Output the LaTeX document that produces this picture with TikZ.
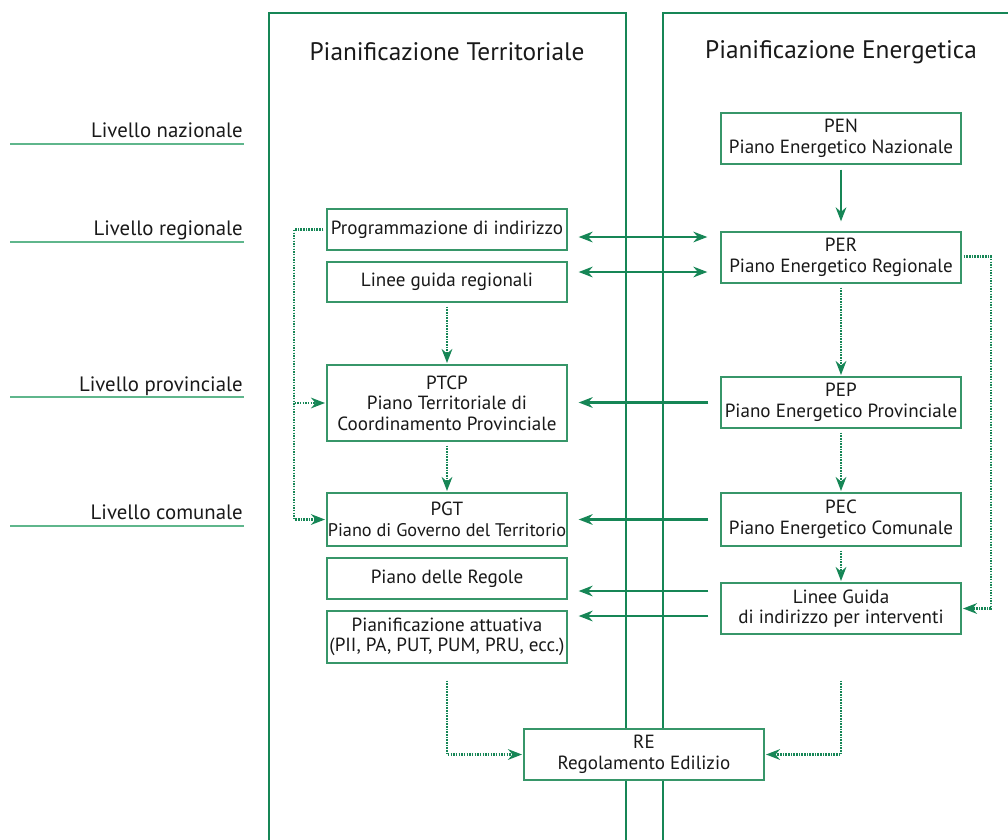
\documentclass[tikz,border=0pt]{standalone}
\usepackage{fontspec}
\setmainfont{PT Sans}
\usetikzlibrary{arrows.meta,calc}
\definecolor{grn}{RGB}{22,134,86}
\definecolor{boxgrn}{RGB}{55,150,105}
\definecolor{lvlgrn}{RGB}{95,182,140}
\definecolor{txt}{RGB}{25,25,25}
\tikzset{
  panel/.style={draw=grn,line width=2pt},
  box/.style={draw=boxgrn,line width=1pt,fill=white,minimum width=180pt,inner sep=0pt,align=center,text=txt,font=\fontsize{14.3}{15.5}\selectfont},
  hdr/.style={text=txt,font=\fontsize{19}{22}\selectfont},
  lvl/.style={text=txt,font=\fontsize{15.6}{18}\selectfont,anchor=base east,inner sep=0pt},
  lvlline/.style={draw=lvlgrn,line width=1pt},
  tip/.style={-{Stealth[length=10.5pt,width=8pt]}},
  arr/.style={draw=grn,line width=1.7pt,tip},
  dbl/.style={draw=grn,line width=1.7pt,{Stealth[length=10.5pt,width=8pt]}-{Stealth[length=10.5pt,width=8pt]}},
  dotarr/.style={draw=grn,line width=1.7pt,dash pattern=on 1.2pt off 0.8pt,tip,shorten >=1pt},
}
\begin{document}
\begin{tikzpicture}[x=0.75pt,y=-0.75pt]
\useasboundingbox (0,0) rectangle (1008,840);
\clip (0,0) rectangle (1008,840);

% panels
\draw[panel] (269,860) -- (269,13) -- (626,13) -- (626,860);
\draw[panel] (663,860) -- (663,13) -- (1030,13);
\node[hdr] (hT) at (447,52) {Pianificazione Territoriale};
\node[hdr] (hE) at (841,52) {Pianificazione Energetica};

% levels
\node[lvl] (l1) at (243,137) {Livello nazionale};
\node[lvl] (l2) at (243,235) {Livello regionale};
\node[lvl] (l3) at (243,391) {Livello provinciale};
\node[lvl] (l4) at (243,519) {Livello comunale};
\draw[lvlline] (10,144) -- (244,144);
\draw[lvlline] (10,242) -- (244,242);
\draw[lvlline] (10,397) -- (244,397);
\draw[lvlline] (10,526) -- (244,526);

% left boxes
\node[box,minimum height=30.75pt] (prog) at (447,229.5) {Programmazione di indirizzo};
\node[box,minimum height=30pt] (LGR) at (447,282) {Linee guida regionali};
\node[box,minimum height=57pt] (PTCP) at (447,403) {PTCP\\Piano Territoriale di\\Coordinamento Provinciale};
\node[box,minimum height=39.75pt] (PGT) at (447,519.5) {PGT\\{\fontsize{13.7}{15.5}\selectfont Piano di Governo del Territorio}};
\node[box,minimum height=30.75pt] (PdR) at (447,578.5) {Piano delle Regole};
\node[box,minimum height=39pt] (PA) at (447,637) {Pianificazione attuativa\\(PII, PA, PUT, PUM, PRU, ecc.)};

% right boxes
\node[box,minimum height=38.25pt] (PEN) at (841,138.5) {PEN\\Piano Energetico Nazionale};
\node[box,minimum height=38.25pt] (PER) at (841,257.5) {PER\\Piano Energetico Regionale};
\node[box,minimum height=38.25pt] (PEP) at (841,402.5) {PEP\\Piano Energetico Provinciale};
\node[box,minimum height=39.75pt] (PEC) at (841,519.5) {PEC\\Piano Energetico Comunale};
\node[box,minimum height=38.25pt] (LG) at (841,608.5) {Linee Guida\\di indirizzo per interventi};

% bottom box
\node[box,minimum height=38.25pt] (RE) at (644,754.5) {RE\\Regolamento Edilizio};

% solid connectors
\draw[arr,shorten <=3.75pt,shorten >=7.5pt] (PEN) -- (PER);
\draw[dbl] ($(prog.east)+(11,7.5)$) -- ($(prog.east -| PER.west)+(-13,7.5)$);
\draw[dbl] ($(LGR.east)+(11,-10)$) -- ($(LGR.east -| PER.west)+(-13,-10)$);
\draw[arr] ($(PEP.west)+(-12,0)$) -- ($(PEP.west -| PTCP.east)+(11,0)$);
\draw[arr] ($(PEC.west)+(-12,0)$) -- ($(PEC.west -| PGT.east)+(11,0)$);
\draw[arr] ($(LG.west)+(-12,-17.5)$) -- ($(LG.west -| PdR.east)+(11,-17.5)$);
\draw[arr] ($(LG.west)+(-12,7.5)$) -- ($(LG.west -| PA.east)+(11,7.5)$);

% dotted connectors
\draw[dotarr] ($(LGR.south)+(0,4)$) -- (PTCP.north);
\draw[dotarr] ($(PTCP.south)+(0,4)$) -- (PGT.north);
\draw[dotarr] ($(PER.south)+(0,4)$) -- (PEP.north);
\draw[dotarr] ($(PEP.south)+(0,4)$) -- (PEC.north);
\draw[dotarr] ($(PEC.south)+(0,4)$) -- (LG.north);
\draw[dotarr] ($(prog.west)+(-3,0)$) -- ++(-29,0) |- (PTCP.west);
\draw[dotarr] ($(prog.west)+(-3,0)$) -- ++(-29,0) |- (PGT.west);
\draw[dotarr] ($(PER.east)+(2,-1)$) -- ++(27,0) |- (LG.east);
\draw[dotarr] ($(PA.south)+(0,17)$) |- (RE.west);
\draw[dotarr] ($(LG.south)+(0,46)$) |- (RE.east);
\end{tikzpicture}
\end{document}
